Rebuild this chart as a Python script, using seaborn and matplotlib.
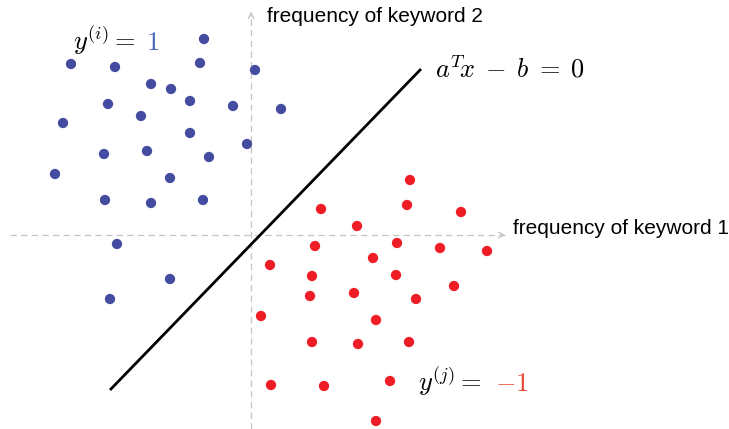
import numpy as np
import pandas as pd
import matplotlib
matplotlib.use("Agg")
import matplotlib.pyplot as plt
import seaborn as sns

# Puntos de la clase y = 1 (azul)
azul_x = [-4.7, -18.0, -13.6, -5.1, 0.4, -10.0, -8.0, -14.3, -6.1, -1.8, 3.0, -18.8, -11.0,
          -6.1, -0.4, -14.7, -10.4, -4.2, -19.6, -8.1, -14.6, -10.0, -4.8, -13.4, -8.1, -14.1]
azul_y = [19.6, 17.1, 16.8, 17.2, 16.5, 15.1, 14.6, 13.1, 13.4, 12.9, 12.6, 11.2, 11.9,
          10.2, 9.1, 8.1, 8.4, 7.8, 6.1, 5.7, 3.5, 3.2, 3.5, -0.9, -4.4, -6.4]

# Puntos de la clase y = -1 (rojo)
rojo_x = [15.9, 7.0, 15.6, 21.0, 10.6, 6.4, 14.6, 18.9, 23.6, 1.9, 12.2, 6.1, 14.5,
          20.3, 5.9, 10.3, 16.5, 1.0, 12.5, 6.1, 10.7, 15.8, 2.0, 7.3, 13.9, 12.5]
rojo_y = [5.5, 2.6, 3.0, 2.3, 0.9, -1.1, -0.8, -1.3, -1.6, -3.0, -2.3, -4.1, -4.0,
          -5.1, -6.1, -5.8, -6.4, -8.1, -8.5, -10.7, -10.9, -10.7, -15.0, -15.1, -14.6, -18.6]

# Hiperplano separador a^T x - b = 0
linea_x = [-14.1, 17.0]
linea_y = [-15.5, 16.6]

etiqueta_eje_x = "frequency of keyword 1"
etiqueta_eje_y = "frequency of keyword 2"

df = pd.DataFrame({
    "x": azul_x + rojo_x,
    "y": azul_y + rojo_y,
    "clase": ["+1"] * len(azul_x) + ["-1"] * len(rojo_x),
})

sns.set_style("white")
plt.rcParams["font.family"] = ["Liberation Sans", "DejaVu Sans"]
plt.rcParams["mathtext.fontset"] = "cm"
plt.rcParams["text.color"] = "black"

fig = plt.figure(figsize=(7.29, 4.29), dpi=100)
ax = fig.add_axes([0, 0, 1, 1])
ax.set_xlim(-25.1, 47.8)
ax.set_ylim(-19.4, 23.5)
ax.set_axis_off()

gris = "#c4c4c4"
# Ejes discontinuos con punta de flecha
ax.plot([-24.1, 25.4], [0, 0], color=gris, lw=0.9, ls=(0, (5, 3.5)), zorder=1)
ax.plot([0, 0], [-19.4, 22.3], color=gris, lw=0.9, ls=(0, (5, 3.5)), zorder=1)
ax.annotate("", xy=(25.7, 0), xytext=(24.7, 0),
            arrowprops=dict(arrowstyle="->", color=gris, lw=0.9))
ax.annotate("", xy=(0, 22.6), xytext=(0, 21.6),
            arrowprops=dict(arrowstyle="->", color=gris, lw=0.9))

ax.plot(linea_x, linea_y, color="black", lw=2, solid_capstyle="butt", zorder=2)

sns.scatterplot(data=df, x="x", y="y", hue="clase",
                palette={"+1": "#434ca0", "-1": "#ee1d25"},
                s=55, linewidth=0, legend=False, ax=ax, zorder=3)

ax.text(1.6, 21.8, etiqueta_eje_y, fontsize=15, va="center", ha="left", color="black")
ax.text(26.2, 0.6, etiqueta_eje_x, fontsize=15, va="center", ha="left", color="black")

ax.text(18.4, 15.8, r"$a^T\!x \;-\; b \;=\; 0$", fontsize=19, va="baseline", ha="left", color="black")
ax.text(-17.8, 18.5, r"$y^{(i)} =$", fontsize=19, va="baseline", ha="left", color="black")
ax.text(-10.5, 18.5, r"$1$", fontsize=19, va="baseline", ha="left", color="#4a67bb")
ax.text(16.7, -15.6, r"$y^{(j)} =$", fontsize=19, va="baseline", ha="left", color="black")
ax.text(24.4, -15.6, r"$-1$", fontsize=19, va="baseline", ha="left", color="#e8452f")

fig.savefig("out.png", dpi=100)
